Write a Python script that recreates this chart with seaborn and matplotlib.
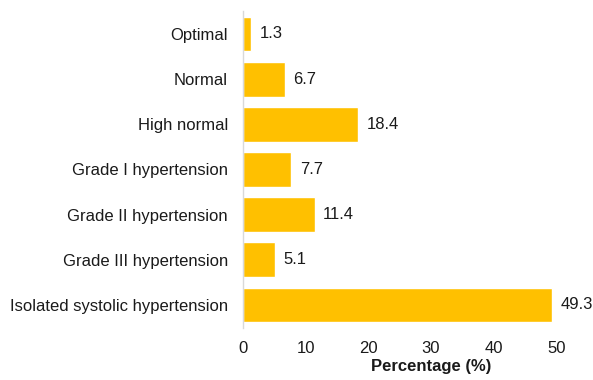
import matplotlib
matplotlib.use("Agg")
import matplotlib.pyplot as plt
import seaborn as sns
import pandas as pd

categories = [
    "Optimal",
    "Normal",
    "High normal",
    "Grade I hypertension",
    "Grade II hypertension",
    "Grade III hypertension",
    "Isolated systolic hypertension",
]
percentages = [1.3, 6.7, 18.4, 7.7, 11.4, 5.1, 49.3]
x_ticks = [0, 10, 20, 30, 40, 50]

df = pd.DataFrame({"category": categories, "pct": percentages})

sns.set_theme(style="white")
plt.rcParams["font.family"] = ["Liberation Sans", "DejaVu Sans"]

fig = plt.figure(figsize=(5.93, 3.80), dpi=100)
ax = fig.add_axes([0.41, 0.138, 0.528, 0.832])

sns.barplot(data=df, x="pct", y="category", order=categories,
            color="#FFC000", saturation=1, width=0.77, ax=ax)

for i, v in enumerate(percentages):
    ax.annotate(f"{v:.1f}", xy=(v, i), xytext=(6, 0), textcoords="offset points",
                ha="left", va="center", fontsize=12, color="#1a1a1a",
                annotation_clip=False)

ax.set_xlim(0, 50)
ax.set_ylim(6.5, -0.5)
ax.set_xticks(x_ticks)
ax.set_ylabel("")
ax.set_xlabel("Percentage (%)", fontsize=12, fontweight="bold", color="#1a1a1a")
ax.xaxis.set_label_coords(0.6, -0.1)
ax.tick_params(axis="both", length=0, labelsize=12, colors="#1a1a1a")
ax.tick_params(axis="y", pad=11)
ax.tick_params(axis="x", pad=10)

for side in ["top", "right", "bottom"]:
    ax.spines[side].set_visible(False)
ax.spines["left"].set_color("#d9d9d9")
ax.spines["left"].set_linewidth(1.0)

fig.savefig("out.png", dpi=100)
